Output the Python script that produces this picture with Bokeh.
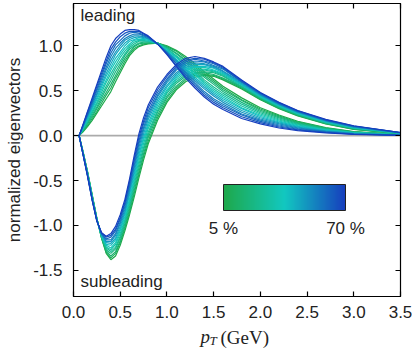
from bokeh.plotting import figure
from bokeh.layouts import column
from bokeh.models import (Span, Label, LinearAxis, FixedTicker, PrintfTickFormatter,
                          ColorBar, LinearColorMapper, Range1d)
from bokeh.embed import file_html
from bokeh.resources import INLINE

# ---------------- data ----------------
pt = [0.06, 0.1, 0.15, 0.2, 0.25, 0.3, 0.35, 0.4, 0.45, 0.5, 0.55, 0.6, 0.65, 0.7, 0.75,
      0.8, 0.9, 1.0, 1.1, 1.2, 1.3, 1.4, 1.5, 1.6, 1.8, 2.0, 2.2, 2.4, 2.7, 3.0, 3.5]

centrality = [5, 10, 15, 20, 25, 30, 35, 40, 45, 50, 55, 60, 65, 70]
colorbar_labels = ["5 %", "70 %"]

lead_05 = [0, 0.04, 0.10, 0.17, 0.25, 0.33, 0.41, 0.49, 0.60, 0.70, 0.80, 0.89, 0.95, 0.99, 1.01, 1.02, 1.03, 1.00, 0.95, 0.88, 0.80, 0.71, 0.63, 0.55, 0.42, 0.310, 0.230, 0.160, 0.090, 0.045, 0.012]
lead_10 = [0, 0.05, 0.11, 0.19, 0.27, 0.36, 0.45, 0.53, 0.64, 0.73, 0.83, 0.91, 0.97, 1.00, 1.02, 1.03, 1.03, 0.99, 0.94, 0.86, 0.78, 0.69, 0.61, 0.53, 0.40, 0.296, 0.219, 0.152, 0.085, 0.043, 0.011]
lead_15 = [0, 0.05, 0.13, 0.21, 0.30, 0.39, 0.48, 0.57, 0.67, 0.77, 0.86, 0.93, 0.99, 1.02, 1.03, 1.03, 1.03, 0.98, 0.92, 0.84, 0.76, 0.67, 0.59, 0.51, 0.39, 0.282, 0.208, 0.144, 0.081, 0.040, 0.011]
lead_20 = [0, 0.06, 0.14, 0.23, 0.32, 0.42, 0.52, 0.61, 0.71, 0.80, 0.89, 0.96, 1.00, 1.03, 1.04, 1.04, 1.03, 0.98, 0.91, 0.83, 0.74, 0.65, 0.57, 0.49, 0.37, 0.268, 0.197, 0.136, 0.076, 0.038, 0.010]
lead_25 = [0, 0.06, 0.15, 0.25, 0.35, 0.45, 0.55, 0.65, 0.75, 0.83, 0.91, 0.98, 1.02, 1.05, 1.05, 1.05, 1.03, 0.97, 0.89, 0.81, 0.72, 0.62, 0.54, 0.47, 0.35, 0.255, 0.185, 0.128, 0.072, 0.035, 0.009]
lead_30 = [0, 0.07, 0.17, 0.27, 0.37, 0.48, 0.59, 0.69, 0.78, 0.87, 0.94, 1.00, 1.04, 1.06, 1.06, 1.05, 1.03, 0.96, 0.88, 0.79, 0.70, 0.60, 0.52, 0.45, 0.33, 0.241, 0.174, 0.120, 0.067, 0.033, 0.009]
lead_35 = [0, 0.08, 0.18, 0.29, 0.40, 0.51, 0.62, 0.73, 0.82, 0.90, 0.97, 1.02, 1.06, 1.07, 1.07, 1.06, 1.02, 0.95, 0.87, 0.77, 0.68, 0.58, 0.50, 0.43, 0.31, 0.227, 0.163, 0.112, 0.062, 0.030, 0.008]
lead_40 = [0, 0.08, 0.19, 0.31, 0.42, 0.54, 0.66, 0.76, 0.86, 0.93, 1.00, 1.05, 1.07, 1.09, 1.08, 1.07, 1.02, 0.94, 0.85, 0.75, 0.65, 0.56, 0.48, 0.41, 0.30, 0.213, 0.152, 0.103, 0.058, 0.028, 0.007]
lead_45 = [0, 0.09, 0.21, 0.32, 0.45, 0.57, 0.69, 0.80, 0.90, 0.97, 1.03, 1.07, 1.09, 1.10, 1.09, 1.08, 1.02, 0.94, 0.84, 0.73, 0.63, 0.54, 0.46, 0.39, 0.28, 0.199, 0.141, 0.095, 0.053, 0.025, 0.006]
lead_50 = [0, 0.10, 0.22, 0.34, 0.47, 0.60, 0.73, 0.84, 0.93, 1.00, 1.06, 1.09, 1.11, 1.11, 1.10, 1.08, 1.02, 0.93, 0.83, 0.71, 0.61, 0.52, 0.44, 0.37, 0.26, 0.185, 0.130, 0.087, 0.048, 0.023, 0.006]
lead_55 = [0, 0.10, 0.23, 0.36, 0.50, 0.63, 0.76, 0.88, 0.97, 1.03, 1.08, 1.11, 1.13, 1.13, 1.11, 1.09, 1.02, 0.92, 0.81, 0.70, 0.59, 0.49, 0.41, 0.35, 0.24, 0.172, 0.118, 0.079, 0.044, 0.020, 0.005]
lead_60 = [0, 0.11, 0.24, 0.38, 0.52, 0.66, 0.80, 0.92, 1.01, 1.06, 1.11, 1.14, 1.15, 1.14, 1.12, 1.10, 1.02, 0.92, 0.80, 0.68, 0.57, 0.47, 0.39, 0.33, 0.23, 0.158, 0.107, 0.071, 0.039, 0.018, 0.004]
lead_65 = [0, 0.11, 0.26, 0.40, 0.55, 0.69, 0.83, 0.96, 1.04, 1.10, 1.14, 1.16, 1.16, 1.16, 1.13, 1.10, 1.02, 0.91, 0.78, 0.66, 0.55, 0.45, 0.37, 0.31, 0.21, 0.144, 0.096, 0.063, 0.035, 0.015, 0.004]
lead_70 = [0, 0.12, 0.27, 0.42, 0.57, 0.72, 0.87, 1.00, 1.08, 1.13, 1.17, 1.18, 1.18, 1.17, 1.14, 1.11, 1.02, 0.90, 0.77, 0.64, 0.53, 0.43, 0.35, 0.29, 0.19, 0.130, 0.085, 0.055, 0.030, 0.013, 0.003]

sub_05 = [0, -0.17, -0.40, -0.66, -0.92, -1.14, -1.31, -1.38, -1.34, -1.22, -1.06, -0.88, -0.68, -0.47, -0.27, -0.09, 0.17, 0.37, 0.51, 0.60, 0.65, 0.67, 0.66, 0.62, 0.52, 0.400, 0.300, 0.220, 0.130, 0.070, 0.020]
sub_10 = [0, -0.17, -0.40, -0.66, -0.92, -1.14, -1.30, -1.36, -1.31, -1.19, -1.03, -0.85, -0.64, -0.43, -0.23, -0.06, 0.20, 0.39, 0.53, 0.62, 0.67, 0.68, 0.67, 0.63, 0.53, 0.406, 0.305, 0.225, 0.134, 0.073, 0.021]
sub_15 = [0, -0.17, -0.41, -0.67, -0.92, -1.13, -1.28, -1.34, -1.29, -1.17, -1.01, -0.82, -0.61, -0.40, -0.20, -0.02, 0.23, 0.42, 0.55, 0.64, 0.69, 0.70, 0.68, 0.64, 0.54, 0.412, 0.311, 0.229, 0.138, 0.076, 0.022]
sub_20 = [0, -0.18, -0.41, -0.67, -0.93, -1.13, -1.27, -1.31, -1.26, -1.14, -0.98, -0.79, -0.57, -0.36, -0.16, 0.01, 0.26, 0.44, 0.58, 0.66, 0.70, 0.71, 0.70, 0.66, 0.54, 0.418, 0.316, 0.234, 0.142, 0.079, 0.023]
sub_25 = [0, -0.18, -0.42, -0.68, -0.93, -1.12, -1.25, -1.29, -1.24, -1.12, -0.95, -0.76, -0.54, -0.32, -0.13, 0.04, 0.28, 0.47, 0.60, 0.68, 0.72, 0.73, 0.71, 0.67, 0.55, 0.425, 0.322, 0.238, 0.145, 0.082, 0.025]
sub_30 = [0, -0.18, -0.42, -0.68, -0.93, -1.12, -1.24, -1.27, -1.21, -1.09, -0.93, -0.73, -0.50, -0.28, -0.09, 0.08, 0.31, 0.49, 0.62, 0.70, 0.74, 0.74, 0.72, 0.68, 0.56, 0.431, 0.327, 0.243, 0.149, 0.085, 0.026]
sub_35 = [0, -0.18, -0.42, -0.69, -0.93, -1.11, -1.22, -1.25, -1.19, -1.06, -0.90, -0.70, -0.47, -0.24, -0.05, 0.11, 0.34, 0.51, 0.64, 0.72, 0.76, 0.76, 0.73, 0.69, 0.57, 0.437, 0.332, 0.248, 0.153, 0.088, 0.027]
sub_40 = [0, -0.19, -0.43, -0.69, -0.94, -1.11, -1.21, -1.22, -1.16, -1.04, -0.87, -0.66, -0.43, -0.21, -0.02, 0.14, 0.37, 0.54, 0.66, 0.74, 0.77, 0.77, 0.75, 0.70, 0.57, 0.443, 0.338, 0.252, 0.157, 0.092, 0.028]
sub_45 = [0, -0.19, -0.43, -0.70, -0.94, -1.10, -1.19, -1.20, -1.14, -1.01, -0.85, -0.63, -0.40, -0.17, 0.02, 0.18, 0.40, 0.56, 0.68, 0.76, 0.79, 0.79, 0.76, 0.71, 0.58, 0.449, 0.343, 0.257, 0.161, 0.095, 0.029]
sub_50 = [0, -0.19, -0.43, -0.70, -0.94, -1.10, -1.18, -1.18, -1.11, -0.98, -0.82, -0.60, -0.36, -0.13, 0.06, 0.21, 0.43, 0.59, 0.70, 0.78, 0.81, 0.80, 0.77, 0.72, 0.59, 0.455, 0.348, 0.262, 0.165, 0.098, 0.030]
sub_55 = [0, -0.19, -0.44, -0.71, -0.94, -1.09, -1.16, -1.16, -1.09, -0.96, -0.79, -0.57, -0.33, -0.09, 0.09, 0.24, 0.45, 0.61, 0.73, 0.80, 0.83, 0.82, 0.78, 0.74, 0.60, 0.462, 0.354, 0.266, 0.168, 0.101, 0.032]
sub_60 = [0, -0.20, -0.44, -0.71, -0.95, -1.09, -1.15, -1.13, -1.06, -0.93, -0.76, -0.54, -0.29, -0.06, 0.13, 0.27, 0.48, 0.63, 0.75, 0.82, 0.85, 0.83, 0.80, 0.75, 0.60, 0.468, 0.359, 0.271, 0.172, 0.104, 0.033]
sub_65 = [0, -0.20, -0.45, -0.72, -0.95, -1.08, -1.13, -1.11, -1.04, -0.91, -0.74, -0.51, -0.26, -0.02, 0.16, 0.31, 0.51, 0.66, 0.77, 0.84, 0.86, 0.85, 0.81, 0.76, 0.61, 0.474, 0.365, 0.275, 0.176, 0.107, 0.034]
sub_70 = [0, -0.20, -0.45, -0.72, -0.95, -1.08, -1.12, -1.09, -1.01, -0.88, -0.71, -0.48, -0.22, 0.02, 0.20, 0.34, 0.54, 0.68, 0.79, 0.86, 0.88, 0.86, 0.82, 0.77, 0.62, 0.480, 0.370, 0.280, 0.180, 0.110, 0.035]

x_ticks = [0.0, 0.5, 1.0, 1.5, 2.0, 2.5, 3.0, 3.5]
y_ticks = [-1.5, -1.0, -0.5, 0.0, 0.5, 1.0]

leading = [lead_05, lead_10, lead_15, lead_20, lead_25, lead_30, lead_35,
           lead_40, lead_45, lead_50, lead_55, lead_60, lead_65, lead_70]
subleading = [sub_05, sub_10, sub_15, sub_20, sub_25, sub_30, sub_35,
              sub_40, sub_45, sub_50, sub_55, sub_60, sub_65, sub_70]

# ---------------- colours (green -> cyan -> blue) ----------------
STOPS = [(30, 168, 74), (18, 200, 192), (22, 62, 190)]


def cmap(t):
    if t <= 0.5:
        a, b, s = STOPS[0], STOPS[1], t / 0.5
    else:
        a, b, s = STOPS[1], STOPS[2], (t - 0.5) / 0.5
    r, g, bb = (round(a[i] + (b[i] - a[i]) * s) for i in range(3))
    return "#%02x%02x%02x" % (r, g, bb)


FONT = "Liberation Sans"
SERIF = "Liberation Serif"
TXT = "#222222"

p = figure(frame_width=327, frame_height=293,
           x_range=Range1d(0, 3.5), y_range=Range1d(-1.79, 1.47),
           output_backend="svg", toolbar_location=None,
           min_border_left=73, min_border_right=12, min_border_top=3,
           min_border_bottom=30)
p.grid.visible = False
p.outline_line_color = "black"
p.outline_line_width = 1.2
p.background_fill_color = "white"
p.border_fill_color = "white"

# zero line
p.add_layout(Span(location=0, dimension="width", line_color="#ababab",
                  line_width=1.6, level="underlay"))

n = len(centrality)
for k in range(n):
    c = cmap(k / (n - 1))
    p.line(pt, leading[k], line_color=c, line_width=1.2)
    p.line(pt, subleading[k], line_color=c, line_width=1.2)


def style_axis(ax, ticks, show_labels):
    ax.ticker = FixedTicker(ticks=ticks)
    ax.formatter = PrintfTickFormatter(format="%.1f")
    ax.major_tick_in = 5
    ax.major_tick_out = 0
    ax.minor_tick_line_color = None
    ax.major_tick_line_color = "black"
    ax.axis_line_color = "black"
    ax.major_tick_line_width = 1.2
    if show_labels:
        ax.major_label_text_font = FONT
        ax.major_label_text_font_size = "17px"
        ax.major_label_text_color = TXT
    else:
        ax.major_label_text_color = None
        ax.major_label_text_font_size = "1px"
        ax.major_label_standoff = 0


style_axis(p.xaxis[0], x_ticks, True)
p.xaxis[0].major_label_standoff = 9
style_axis(p.yaxis[0], y_ticks, True)
p.yaxis[0].major_label_standoff = 11
p.yaxis[0].axis_label = "normalized eigenvectors"
p.yaxis[0].axis_label_text_font = FONT
p.yaxis[0].axis_label_text_font_size = "17px"
p.yaxis[0].axis_label_text_font_style = "normal"
p.yaxis[0].axis_label_text_color = TXT
p.yaxis[0].axis_label_standoff = 6

top = LinearAxis()
style_axis(top, x_ticks, False)
p.add_layout(top, "above")
right = LinearAxis()
style_axis(right, y_ticks, False)
p.add_layout(right, "right")

# text labels (screen units relative to the plot frame)
p.add_layout(Label(x=7, y=281, x_units="screen", y_units="screen", text="leading",
                   text_font=FONT, text_font_size="17px", text_color=TXT,
                   text_baseline="alphabetic"))
p.add_layout(Label(x=7, y=15, x_units="screen", y_units="screen", text="subleading",
                   text_font=FONT, text_font_size="17px", text_color=TXT,
                   text_baseline="alphabetic"))

# colour bar
bar_palette = [cmap(i / 255) for i in range(256)]
mapper = LinearColorMapper(palette=bar_palette, low=centrality[0], high=centrality[-1])
cb = ColorBar(color_mapper=mapper, orientation="horizontal", width=122, height=26,
              location=(150, 56), padding=0, margin=0,
              ticker=FixedTicker(ticks=[centrality[0], centrality[-1]]),
              major_label_overrides={centrality[0]: colorbar_labels[0],
                                     centrality[-1]: colorbar_labels[1]},
              major_label_text_font=FONT, major_label_text_font_size="17px",
              major_label_text_color=TXT, major_tick_line_color=None,
              minor_tick_line_color=None, bar_line_color="#222222", bar_line_width=1,
              border_line_color=None, background_fill_alpha=0, label_standoff=8)
p.add_layout(cb, "center")

# x axis title strip: p_T (GeV)
q = figure(width=412, height=24, x_range=Range1d(0, 1), y_range=Range1d(0, 1),
           output_backend="svg", toolbar_location=None, min_border=0,
           x_axis_type=None, y_axis_type=None)
q.grid.visible = False
q.outline_line_color = None
q.background_fill_color = "white"
q.border_fill_color = "white"
q.add_layout(Label(x=127, y=14, x_units="screen", y_units="screen", text="p",
                   text_font=SERIF, text_font_style="italic",
                   text_font_size="19px", text_color=TXT, text_baseline="alphabetic"))
q.add_layout(Label(x=136, y=10, x_units="screen", y_units="screen", text="T",
                   text_font=SERIF, text_font_style="italic",
                   text_font_size="13px", text_color=TXT, text_baseline="alphabetic"))
q.add_layout(Label(x=147, y=13, x_units="screen", y_units="screen", text="(GeV)",
                   text_font=SERIF, text_font_size="19px",
                   text_color=TXT, text_baseline="alphabetic"))

layout = column(p, q, spacing=0)
open("out.html", "w").write(file_html(layout, INLINE))
